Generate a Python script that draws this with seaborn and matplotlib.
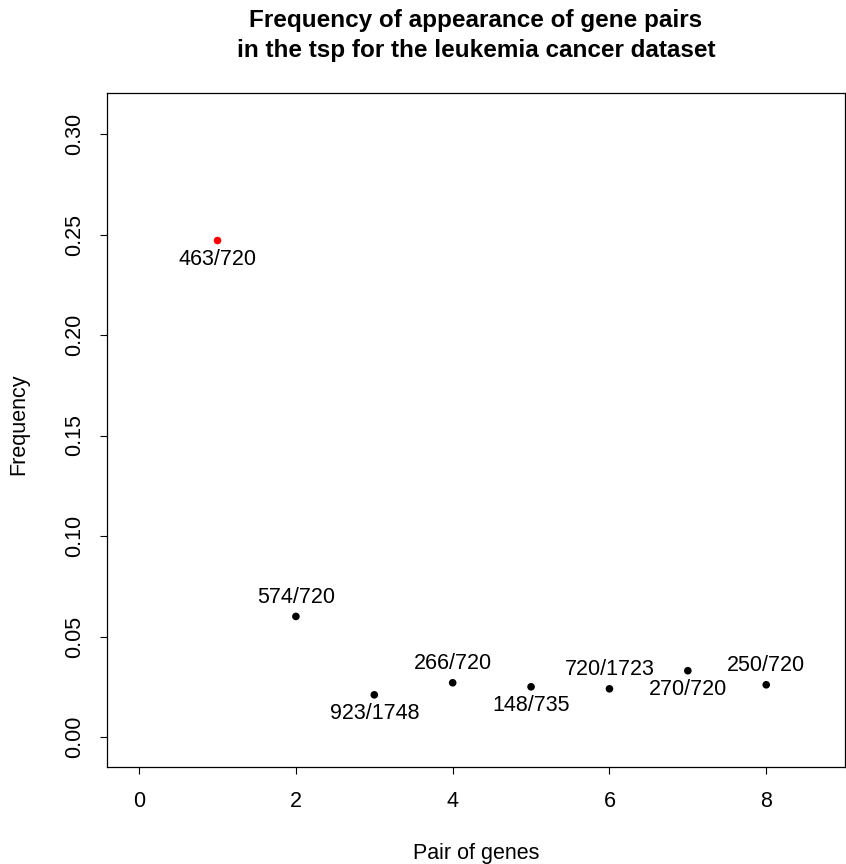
import matplotlib
matplotlib.use("Agg")
import matplotlib.pyplot as plt
import seaborn as sns
import pandas as pd

pairs = [1, 2, 3, 4, 5, 6, 7, 8]
frequency = [0.247, 0.060, 0.021, 0.027, 0.025, 0.024, 0.033, 0.026]
labels = ["463/720", "574/720", "923/1748", "266/720", "148/735", "720/1723", "270/720", "250/720"]
label_side = ["below", "above", "below", "above", "below", "above", "below", "above"]
point_colors = ["red", "black", "black", "black", "black", "black", "black", "black"]
x_ticks = [0, 2, 4, 6, 8]
y_ticks = [0.00, 0.05, 0.10, 0.15, 0.20, 0.25, 0.30]

sns.set_style("white")
plt.rcParams["font.family"] = ["Liberation Sans", "DejaVu Sans"]
plt.rcParams["text.color"] = "black"
plt.rcParams["axes.labelcolor"] = "black"
plt.rcParams["xtick.color"] = "black"
plt.rcParams["ytick.color"] = "black"

df = pd.DataFrame({"pair": pairs, "freq": frequency, "label": labels,
                   "side": label_side, "color": point_colors})

W, H = 846, 864
fig = plt.figure(figsize=(8.46, 8.64), dpi=100)
ax = fig.add_axes([107/W, 1-767/H, (845-107)/W, (767-93)/H])

sns.scatterplot(data=df, x="pair", y="freq", hue="color",
                palette={"red": "red", "black": "black"},
                s=30, edgecolor="none", legend=False, ax=ax)

fs = 15.5
for _, r in df.iterrows():
    dy = -13.7 if r["side"] == "below" else 13.7
    ax.annotate(r["label"], (r["pair"], r["freq"]), xytext=(0, dy),
                textcoords="offset points", ha="center", va="center",
                fontsize=fs, color="black")

ax.set_xlim(-0.41, 9.005)
ax.set_ylim(-0.0149, 0.3204)
ax.set_xticks(x_ticks)
ax.set_yticks(y_ticks)
ax.set_xticklabels([str(v) for v in x_ticks], fontsize=fs)
ax.set_yticklabels([f"{v:.2f}" for v in y_ticks], fontsize=fs, rotation=90, va="center")
ax.tick_params(axis="both", direction="out", length=5, width=0.8, colors="black",
               left=True, bottom=True)
ax.tick_params(axis="x", pad=12)
ax.tick_params(axis="y", pad=11)
for sp in ax.spines.values():
    sp.set_visible(True)
    sp.set_color("black")
    sp.set_linewidth(0.9)

ax.set_xlabel("")
ax.set_ylabel("")
fig.text(476/W, 1-853/H, "Pair of genes", fontsize=fs, ha="center", va="center", color="black")
fig.text(19/W, 1-424/H, "Frequency", fontsize=fs, ha="center", va="center",
         rotation=90, color="black")
fig.text(476/W, 1-21/H, "Frequency of appearance of gene pairs", fontsize=17.5,
         fontweight="bold", ha="center", va="center", color="black")
fig.text(476/W, 1-50/H, "in the tsp for the leukemia cancer dataset", fontsize=17.5,
         fontweight="bold", ha="center", va="center", color="black")

fig.savefig("out.png", dpi=100)
